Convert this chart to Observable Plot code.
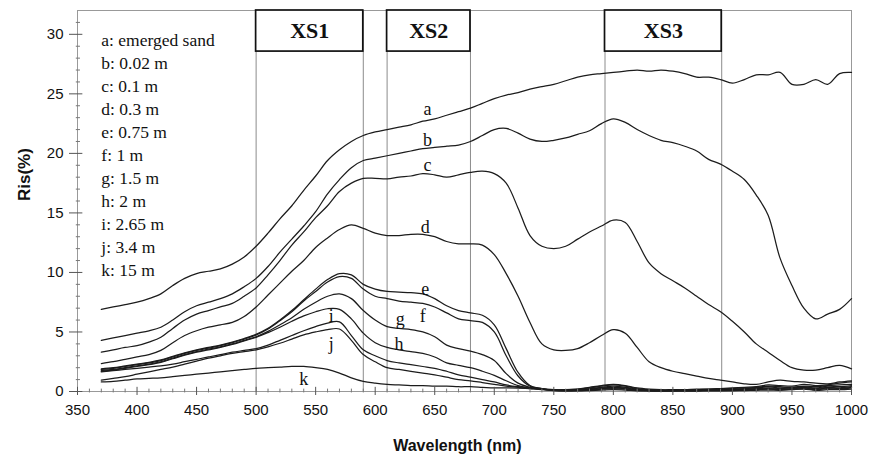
<!DOCTYPE html>
<html><head><meta charset="utf-8">
<script src="https://cdn.jsdelivr.net/npm/d3@7"></script>
<script src="https://cdn.jsdelivr.net/npm/@observablehq/plot@0.6"></script>
<style>html,body{margin:0;padding:0;background:#fff;}</style>
</head><body><div id="chart"></div>
<script>
// Wavelength grid (nm)
const wavelengths = [370,380,390,400,410,420,430,440,450,460,
  470,480,490,500,510,520,530,540,550,560,
  570,580,590,600,610,620,630,640,650,660,
  670,680,690,700,710,720,730,740,750,760,
  770,780,790,800,810,820,830,840,850,860,
  870,880,890,900,910,920,930,940,950,960,
  970,980,990,1000];

// Reflectance Ris (%) per curve
const curveA = [6.9,7.1,7.3,7.5,7.8,8.2,8.9,9.5,9.9,10.1,
  10.3,10.7,11.3,12.2,13.3,14.5,15.6,16.9,18.1,19.4,
  20.3,21.0,21.5,21.8,22.0,22.2,22.4,22.7,22.9,23.2,
  23.5,23.8,24.2,24.6,24.9,25.1,25.4,25.6,25.8,26.1,
  26.4,26.6,26.7,26.8,26.9,27.0,26.9,27.0,26.9,26.7,
  26.4,26.4,26.2,25.9,26.2,26.6,26.6,26.8,25.8,25.8,
  26.2,25.8,26.7,26.8];
const curveB = [4.3,4.5,4.7,4.9,5.1,5.4,6.0,6.7,7.2,7.5,
  7.8,8.2,8.8,9.5,10.5,11.7,12.8,13.9,15.1,16.6,
  17.8,18.8,19.4,19.6,19.8,20.0,20.2,20.4,20.5,20.6,
  20.7,21.0,21.5,22.0,22.1,21.7,21.2,21.0,21.1,21.3,
  21.6,21.9,22.5,22.9,22.6,22.0,21.5,21.1,20.9,20.6,
  20.2,19.5,19.1,18.5,17.8,16.5,14.8,11.2,8.9,7.0,
  6.1,6.5,6.9,7.8];
const curveC = [3.3,3.5,3.7,3.85,4.15,4.55,5.3,6.0,6.5,6.8,
  7.1,7.4,8.0,8.7,9.8,11.0,12.3,13.4,14.6,15.6,
  16.8,17.5,17.9,17.9,17.85,18.0,18.1,18.3,18.2,18.0,
  18.2,18.4,18.5,18.3,17.5,15.4,13.1,12.2,12.0,12.2,
  12.8,13.4,13.9,14.4,14.2,12.6,10.8,9.9,9.3,8.7,
  8.0,7.3,6.7,5.9,5.0,4.0,3.3,2.6,2.0,1.8,
  1.8,2.0,2.2,1.9];
const curveD = [2.35,2.5,2.7,2.9,3.1,3.45,4.1,4.7,5.1,5.4,
  5.6,5.8,6.3,7.1,8.1,9.1,10.1,11.0,12.1,12.9,
  13.6,14.0,13.7,13.3,13.1,13.1,13.2,13.2,13.0,12.6,
  12.4,12.4,12.3,11.5,9.9,8.0,5.8,4.0,3.5,3.45,
  3.6,4.1,4.7,5.2,4.9,3.7,2.5,2.0,1.7,1.5,
  1.3,1.1,0.95,0.8,0.65,0.6,0.8,0.95,0.85,0.8,
  0.7,0.65,0.8,0.9];
const curveE = [1.9,2.0,2.15,2.3,2.45,2.65,2.95,3.25,3.5,3.7,
  3.9,4.15,4.45,4.8,5.3,6.0,6.8,7.7,8.6,9.4,
  9.9,9.8,9.0,8.6,8.4,8.35,8.3,8.2,7.8,7.2,
  6.8,6.6,6.4,5.6,3.6,1.6,0.5,0.25,0.15,0.15,
  0.2,0.35,0.5,0.6,0.5,0.3,0.2,0.15,0.15,0.15,
  0.2,0.2,0.25,0.3,0.35,0.4,0.55,0.5,0.45,0.6,
  0.5,0.55,0.7,0.8];
const curveF = [1.85,1.95,2.1,2.25,2.4,2.6,2.9,3.2,3.45,3.65,
  3.85,4.1,4.4,4.75,5.25,5.95,6.7,7.6,8.4,9.2,
  9.65,9.5,8.6,8.0,7.8,7.6,7.5,7.4,7.1,6.6,
  6.1,5.95,5.8,5.0,3.0,1.3,0.45,0.25,0.15,0.15,
  0.2,0.3,0.45,0.55,0.45,0.25,0.15,0.12,0.12,0.15,
  0.15,0.2,0.2,0.25,0.3,0.35,0.45,0.4,0.35,0.45,
  0.4,0.5,0.55,0.6];
const curveG = [1.75,1.85,2.0,2.15,2.3,2.5,2.8,3.1,3.35,3.55,
  3.75,4.0,4.3,4.6,5.05,5.6,6.2,6.9,7.5,8.0,
  8.2,7.8,6.8,6.0,5.45,5.3,5.2,5.0,4.6,3.9,
  3.6,3.4,3.1,2.6,1.5,0.7,0.35,0.2,0.12,0.12,
  0.15,0.25,0.35,0.45,0.35,0.2,0.12,0.1,0.1,0.12,
  0.12,0.15,0.15,0.2,0.25,0.3,0.4,0.3,0.35,0.4,
  0.3,0.45,0.4,0.5];
const curveH = [1.7,1.8,1.95,2.1,2.25,2.45,2.75,3.05,3.3,3.5,
  3.7,3.95,4.25,4.55,4.95,5.4,5.9,6.35,6.7,6.95,
  6.9,6.1,4.9,4.1,3.7,3.5,3.35,3.2,2.9,2.4,
  2.2,2.0,1.7,1.35,0.9,0.5,0.3,0.2,0.1,0.1,
  0.12,0.2,0.3,0.35,0.3,0.15,0.1,0.08,0.08,0.1,
  0.1,0.12,0.12,0.15,0.2,0.25,0.3,0.25,0.3,0.35,
  0.25,0.35,0.3,0.4];
const curveI = [1.65,1.75,1.85,1.95,2.05,2.15,2.3,2.5,2.7,2.9,
  3.1,3.3,3.45,3.6,3.9,4.3,4.7,5.1,5.45,5.75,
  5.85,4.7,3.5,3.0,2.6,2.4,2.25,2.1,1.95,1.7,
  1.4,1.2,1.0,0.8,0.55,0.4,0.3,0.2,0.1,0.08,
  0.1,0.15,0.25,0.3,0.25,0.12,0.08,0.06,0.06,0.08,
  0.08,0.1,0.1,0.12,0.15,0.2,0.25,0.2,0.25,0.3,
  0.2,0.3,0.25,0.35];
const curveJ = [0.95,1.1,1.25,1.45,1.65,1.85,2.05,2.3,2.55,2.8,
  3.0,3.2,3.35,3.5,3.75,4.05,4.4,4.75,5.0,5.2,
  5.25,4.3,3.1,2.5,2.0,1.85,1.7,1.55,1.4,1.2,
  1.0,0.9,0.75,0.6,0.45,0.35,0.25,0.15,0.08,0.06,
  0.08,0.12,0.2,0.25,0.2,0.1,0.06,0.05,0.05,0.06,
  0.06,0.08,0.08,0.1,0.12,0.15,0.2,0.15,0.2,0.25,
  0.15,0.25,0.2,0.3];
const curveK = [0.8,0.85,0.95,1.05,1.1,1.15,1.25,1.35,1.45,1.55,
  1.65,1.75,1.85,1.95,2.0,2.05,2.1,2.1,2.0,1.85,
  1.55,1.15,0.85,0.7,0.6,0.55,0.5,0.5,0.45,0.45,
  0.4,0.4,0.35,0.3,0.3,0.28,0.25,0.2,0.1,0.05,
  0.05,0.08,0.12,0.15,0.12,0.06,0.04,0.03,0.03,0.04,
  0.04,0.05,0.05,0.06,0.08,0.1,0.12,0.1,0.15,0.2,
  0.1,0.15,0.15,0.2];

const curveKeys = ["a","b","c","d","e","f","g","h","i","j","k"];
const curveValues = [curveA,curveB,curveC,curveD,curveE,curveF,curveG,curveH,curveI,curveJ,curveK];

const legendLines = ["a: emerged sand","b: 0.02 m","c: 0.1 m","d: 0.3 m","e: 0.75 m","f: 1 m",
  "g: 1.5 m","h: 2 m","i: 2.65 m","j: 3.4 m","k: 15 m"];

// curve letter annotations (wavelength, Ris)
const labelText = ["a","b","c","d","e","f","g","h","i","j","k"];
const labelWl   = [644,644,644,642,642,640,621,620,563,563,540];
const labelR    = [23.7,21.1,19.0,13.8,8.6,6.3,6.1,4.0,6.3,4.0,1.0];

// spectral windows
const windowNames = ["XS1","XS2","XS3"];
const windowStart = [500,610,793];
const windowEnd   = [590,680,891];

const xTicks = [350,400,450,500,550,600,650,700,750,800,850,900,950,1000];
const yTicks = [0,5,10,15,20,25,30];
const xMinor = d3.range(360, 1000, 10).filter(v => v % 50 !== 0);
const yMinor = d3.range(1, 32, 1).filter(v => v % 5 !== 0);

const rows = curveKeys.flatMap((k, s) => curveValues[s].map((v, i) => ({key: k, wl: wavelengths[i], r: v})));
const labels = labelText.map((t, i) => ({t, wl: labelWl[i], r: labelR[i]}));
const windows = windowNames.map((n, i) => ({n, x1: windowStart[i], x2: windowEnd[i]}));
const dividers = windowStart.flatMap((s, i) => [s, windowEnd[i]]);

const serif = "'Liberation Serif', 'Times New Roman', serif";
const sans = "'Liberation Sans', Arial, sans-serif";

const chart = Plot.plot({
  width: 875, height: 467,
  marginLeft: 77, marginRight: 24, marginTop: 10, marginBottom: 76,
  x: {domain: [350, 1000]},
  y: {domain: [0, 32]},
  style: {fontFamily: sans, background: "#fff", color: "#111"},
  marks: [
    Plot.frame({stroke: "#999", strokeWidth: 1}),
    Plot.ruleX(dividers, {stroke: "#8c8c8c", strokeWidth: 1}),
    Plot.line(rows, {x: "wl", y: "r", z: "key", stroke: "#1c1c1c", strokeWidth: 1.25, curve: "catmull-rom"}),
    Plot.rect(windows, {x1: "x1", x2: "x2", y1: 28.55, y2: 32, fill: "white", stroke: "#111", strokeWidth: 1.7}),
    Plot.text(windows, {x: d => (d.x1 + d.x2) / 2, y: 30.3, text: "n", fontFamily: serif, fontWeight: "bold", fontSize: 22, fill: "#111"}),
    Plot.text(legendLines, {x: 370, y: (d, i) => 29.48 - i * 1.932, text: d => d, textAnchor: "start", fontFamily: serif, fontSize: 17.5, fill: "#111"}),
    Plot.text(labels, {x: "wl", y: "r", text: "t", fontFamily: serif, fontSize: 18, fill: "#111"}),
    // axes
    Plot.axisX({ticks: xTicks, tickFormat: d => String(d), tickSize: 4, tickPadding: 9, fontSize: 15, label: null, stroke: "#555"}),
    Plot.axisY({ticks: yTicks, tickFormat: d => String(d), tickSize: 8, tickPadding: 6, fontSize: 15, label: null, stroke: "#555"}),
    Plot.ruleX(xTicks, {y1: 0, y2: 0.35, stroke: "#555"}),
    Plot.ruleY(yTicks, {x1: 350, x2: 354.5, stroke: "#555"}),
    Plot.ruleX(xMinor, {y1: -0.12, y2: 0.2, stroke: "#777"}),
    Plot.ruleY(yMinor, {x1: 349, x2: 352.5, stroke: "#777"}),
    Plot.text(["Ris(%)"], {frameAnchor: "left", y: 16, dx: -53, rotate: -90, fontWeight: "bold", fontSize: 17, fill: "#111"}),
    Plot.text(["Wavelength (nm)"], {x: 669, frameAnchor: "bottom", dy: 59, fontWeight: "bold", fontSize: 16, fill: "#111"})
  ]
});
document.getElementById("chart").appendChild(chart);
</script>
</body></html>
